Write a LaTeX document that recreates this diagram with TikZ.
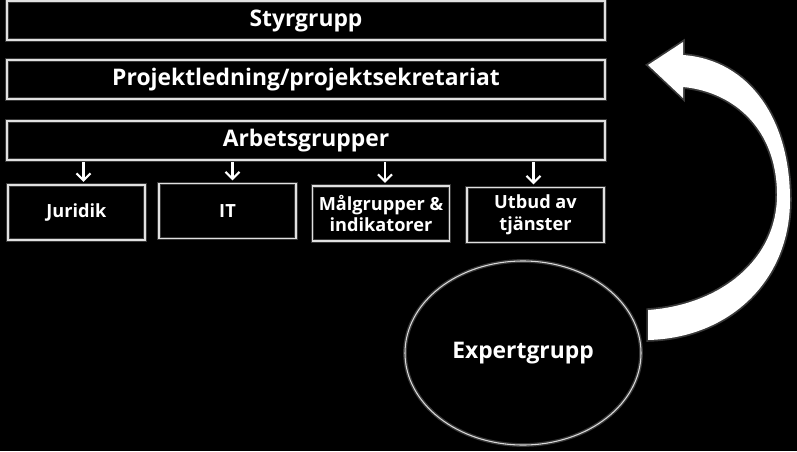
\documentclass[tikz,border=0pt]{standalone}
\usepackage{fontspec}
\setmainfont{Open Sans}
\usetikzlibrary{arrows.meta,shapes.geometric}
\begin{document}
\begin{tikzpicture}[x=0.03cm,y=-0.03cm,
    glow/.style={preaction={draw=white!22!black,line width=3.2pt}},
    wide/.style={draw=white!88!black,line width=1.2pt,glow,text=white,
      minimum width=17.94cm,minimum height=1.17cm,
      font=\fontsize{19.5}{23}\selectfont\bfseries},
    group/.style={draw=white!88!black,line width=1.2pt,glow,text=white,
      minimum width=4.11cm,minimum height=1.65cm,align=center,
      font=\fontsize{15.5}{18.7}\selectfont\bfseries},
    down/.style={draw=white,line width=1.9pt,
      -{Straight Barb[length=6pt,width=12pt]},shorten <=1.5pt,shorten >=2pt}]
  \fill[black] (0,0) rectangle (797,451);
  \useasboundingbox (0,0) rectangle (797,451);
  % rader
  \node[wide] (styr) at (306,20.5) {Styrgrupp};
  \node[wide] (proj) at (306,79.5) {Projektledning/projektsekretariat};
  \node[wide] (arb) at (306,140.5) {Arbetsgrupper};
  % arbetsgrupper
  \node[group] (jur) at (76.5,212.5) {Juridik};
  \node[group] (it) at (227.5,211) {IT};
  \node[group] (mal) at (381,213.5) {Målgrupper \&\\indikatorer};
  \node[group] (utb) at (535.5,215) {Utbud av\\tjänster};
  \foreach \g/\dx in {jur/7,it/5,mal/4,utb/-2}
    \draw[down] ([xshift=\dx*0.03cm]arb.south -| \g.north) -- ([xshift=\dx*0.03cm]\g.north);
  % expertgrupp
  \node[ellipse,draw=white!85!black,line width=0.9pt,glow,text=white,
    minimum width=7.08cm,minimum height=5.52cm,
    font=\fontsize{19.5}{23}\selectfont\bfseries] (exp) at (523,353) {Expertgrupp};
  % böjd pil
  \fill[white,preaction={draw=white!22!black,line width=3pt}]
    (648,310) .. controls (720,305) and (777,260) .. (777,195)
    .. controls (777,130) and (735,92) .. (683,87)
    -- (683,98) -- (648,65) -- (683,42) -- (683,55)
    .. controls (750,60) and (790,120) .. (790,200)
    .. controls (790,280) and (730,338) .. (648,340) -- cycle;
\end{tikzpicture}
\end{document}
